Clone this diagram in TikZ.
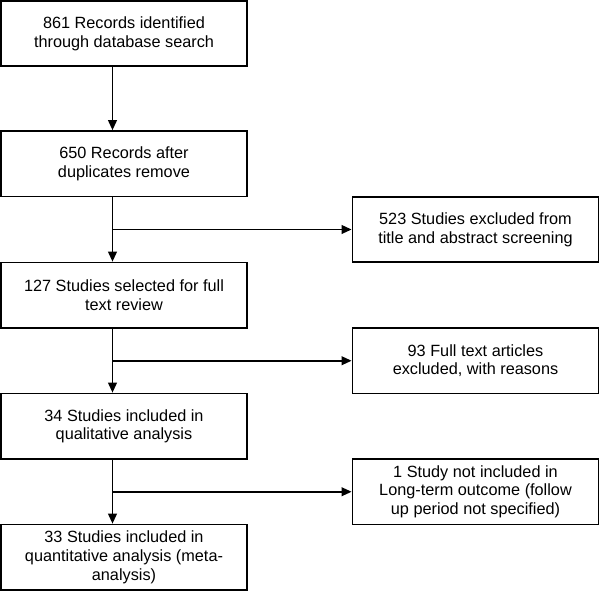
\documentclass[tikz,border=0pt]{standalone}
\usepackage{fontspec}
\setmainfont{Liberation Sans}
\usetikzlibrary{arrows.meta}
\begin{document}
\begin{tikzpicture}[x=0.75pt, y=-0.75pt, line width=1.35pt, font=\fontsize{12.2}{14}\selectfont, >={Triangle[length=7.5pt,width=6.5pt]}]
\tikzstyle{every node} = [rectangle, fill=white, draw, align=center, inner sep=0pt, minimum width=184.5pt, minimum height=49pt]
\useasboundingbox (0,0) rectangle (600,591);
\node (rec) at (124,33.5) {861 Records identified\\through database search};
\node (dup) at (124,163.75) {650 Records after\\duplicates remove};
\node (full) at (124,295.25) {127 Studies selected for full\\text review};
\node (qual) at (124,426.25) {34 Studies included in\\qualitative analysis};
\node (quant) at (124,557.25) {33 Studies included in\\quantitative analysis (meta-\\analysis)};
\node (excl1) at (475.5,229.5) {523 Studies excluded from\\title and abstract screening};
\node (excl2) at (475.5,360.75) {93 Full text articles\\excluded, with reasons};
\node (excl3) at (475.5,491.75) {1 Study not included in\\Long-term outcome (follow\\up period not specified)};
\coordinate (col) at (112.5,0);
\foreach \from/\to in {rec/dup, dup/full, full/qual, qual/quant}
  \draw [->] (\from.south -| col) -- (\to.north -| col);
\foreach \to in {excl1, excl2, excl3}
  \draw [->] (\to.west -| col) -- (\to.west);
\end{tikzpicture}
\end{document}
